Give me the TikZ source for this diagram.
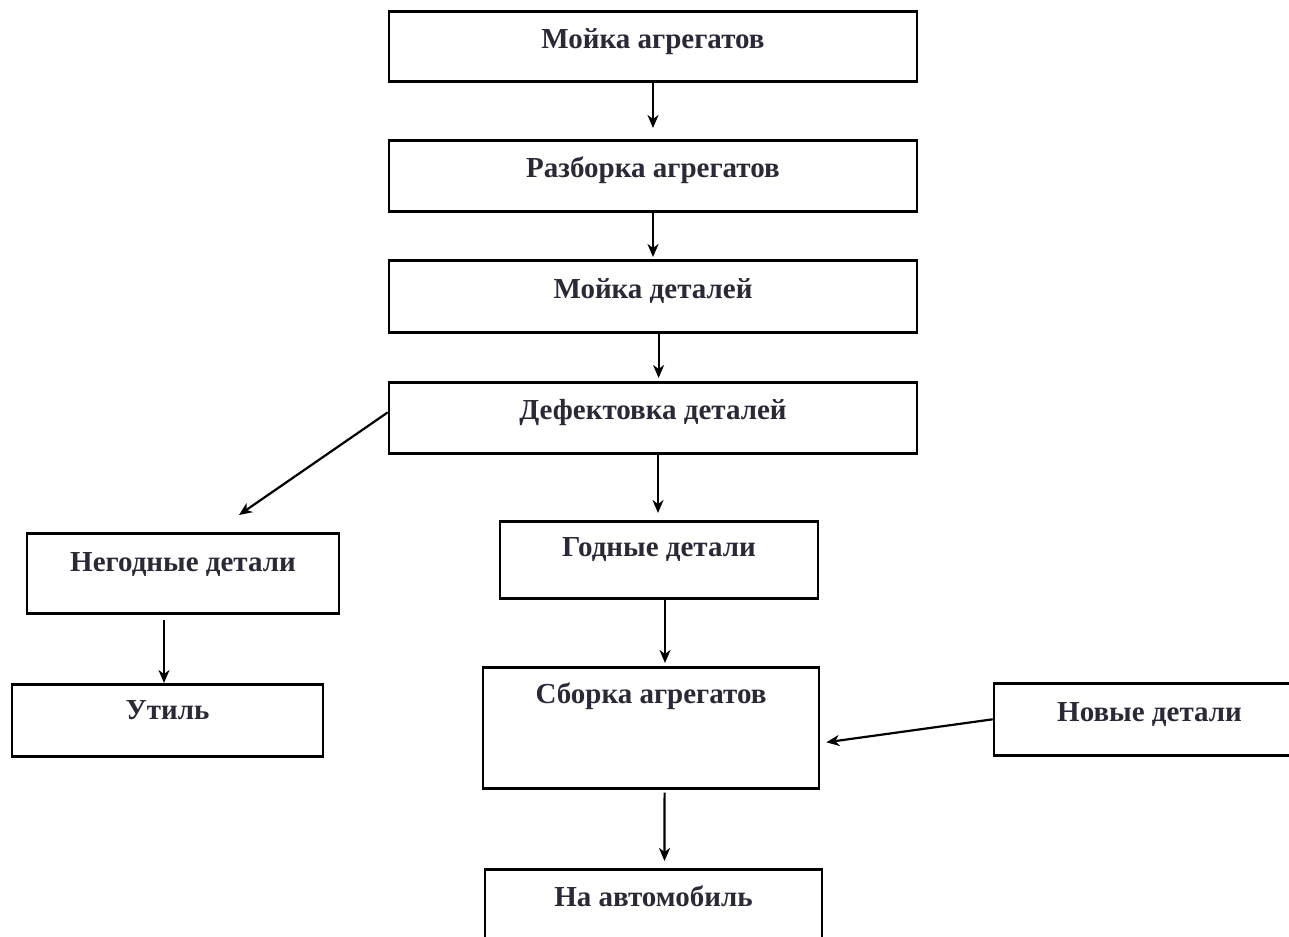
\documentclass[tikz,border=0pt]{standalone}
\usepackage{fontspec}
\setmainfont{Liberation Serif}
\usetikzlibrary{arrows.meta}
\definecolor{txt}{RGB}{42,42,54}
\begin{document}
\begin{tikzpicture}[x=0.5pt,y=-0.5pt,
  box/.style={draw=black, line width=1.3pt, inner sep=0pt, anchor=north,
    font=\fontsize{14.5pt}{17pt}\selectfont\bfseries, text=txt},
  arr/.style={draw=black, line width=1.1pt, -{Stealth[length=6.5pt,width=5.5pt,inset=2pt]}}]
\useasboundingbox (0,0) rectangle (1289,936);
\clip (0,0) rectangle (1289,936);
% boxes: minimum width = px/2, text height/depth = px/2
\node[box, minimum width=264pt, text height=18.5pt, text depth=16.5pt] (b1) at (653,10) {Мойка агрегатов};
\node[box, minimum width=264pt, text height=18.5pt, text depth=17pt] (b2) at (653,139) {Разборка агрегатов};
\node[box, minimum width=264pt, text height=19pt, text depth=17pt] (b3) at (653,259) {Мойка деталей};
\node[box, minimum width=264pt, text height=18.5pt, text depth=17pt] (b4) at (653,381) {Дефектовка деталей};
\node[box, minimum width=156pt, text height=19pt, text depth=21pt] (b5) at (183,532) {Негодные детали};
\node[box, minimum width=159pt, text height=17.5pt, text depth=21pt] (b6) at (659,520) {Годные детали};
\node[box, minimum width=155.5pt, text height=17.5pt, text depth=18.5pt] (b7) at (167.5,683) {Утиль};
\node[box, minimum width=168pt, text height=18pt, text depth=42.5pt] (b8) at (651,666) {Сборка агрегатов};
\node[box, minimum width=155.5pt, text height=19pt, text depth=17pt] (b9) at (1149.5,682) {Новые детали};
\node[box, minimum width=168.5pt, text height=18.5pt, text depth=17.5pt] (b10) at (653.5,868) {На автомобиль};
% connectors
\draw[arr, shorten >=5.5pt] (b1.south) -- (b2.north);
\draw[arr, shorten >=1pt] (b2.south) -- (b3.north);
\draw[arr, shorten >=1.5pt] ([xshift=2.8pt]b3.south) -- ([xshift=2.8pt]b4.north);
\draw[arr] ([yshift=2.7pt]b4.west) -- ([xshift=28pt,yshift=8.5pt]b5.north);
\draw[arr, shorten >=3.5pt] ([xshift=2.5pt]b4.south) -- ([xshift=-0.5pt]b6.north);
\draw[arr, shorten <=2.5pt] ([xshift=-9.5pt]b5.south) -- ([xshift=-1.75pt]b7.north);
\draw[arr, shorten >=1.5pt] ([xshift=3pt]b6.south) -- ([xshift=7pt]b8.north);
\draw[arr] (b9.west) -- ([xshift=3pt,yshift=-7.25pt]b8.east);
\draw[arr, shorten <=1.5pt, shorten >=3.5pt] ([xshift=6.8pt]b8.south) -- ([xshift=5.5pt]b10.north);
\end{tikzpicture}
\end{document}
